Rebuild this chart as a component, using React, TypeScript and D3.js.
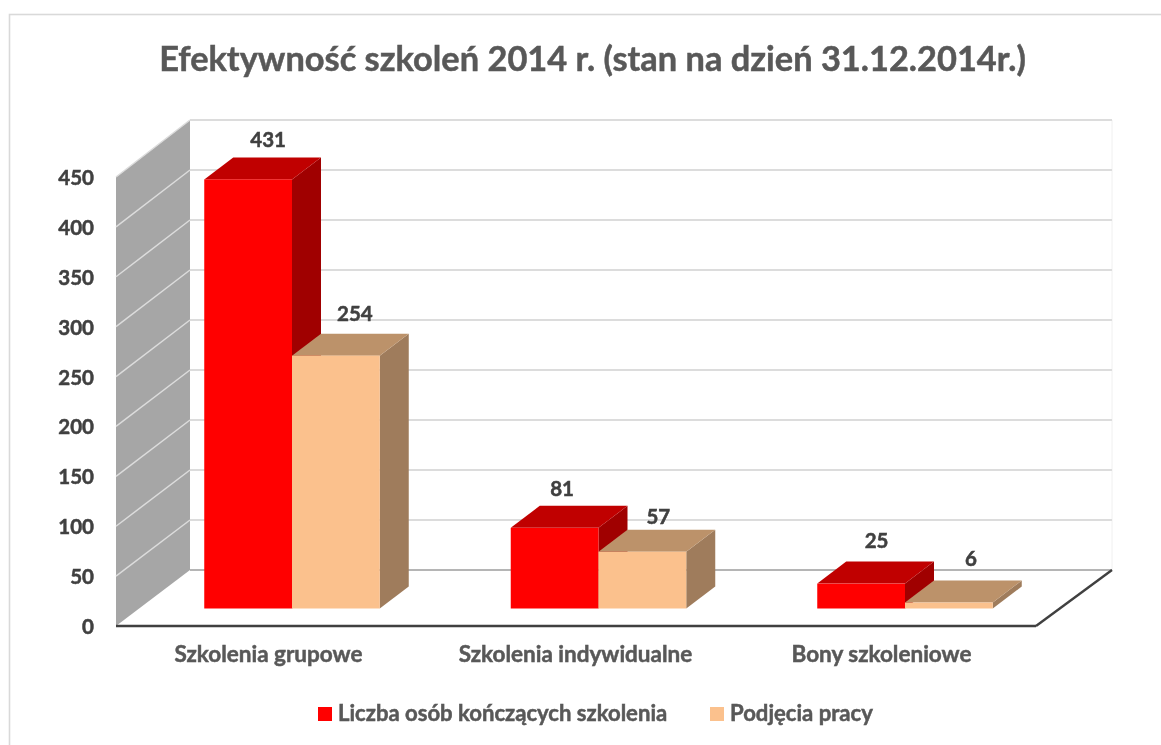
import React from "react";
import * as d3 from "d3";

const categories = ["Szkolenia grupowe", "Szkolenia indywidualne", "Bony szkoleniowe"];
const seriesNames = ["Liczba osób kończących szkolenia", "Podjęcia pracy"];
const graduates = [431, 81, 25];
const hired = [254, 57, 6];
const ticks = [0, 50, 100, 150, 200, 250, 300, 350, 400, 450];
const title = "Efektywność szkoleń 2014 r. (stan na dzień 31.12.2014r.)";

const FONT = "Lato, 'Open Sans', sans-serif";
const TEXT = "#595959";
const LABEL = "#404040";

const front = d3.scaleLinear().domain([0, 450]).range([626, 177]);
const back = d3.scaleLinear().domain([0, 450]).range([570, 120]);
const bar = d3.scaleLinear().domain([0, 450]).range([608.5, 160.5]);
const groupW = 175.5;
const groupCenters = [292, 598.5, 905];
const dx = 29;
const dy = -22;

// manual placement of the data labels, as offsets from the front-top centre of each bar
const gradLabelOffset: [number, number][] = [[20, -32], [7.5, -32], [15.5, -36]];
const hiredLabelOffset: [number, number][] = [[19, -35], [16, -28], [22, -37]];

const pts = (p: [number, number][]) => p.map((d) => d.join(",")).join(" ");

const palettes = [
  { front: "#ff0000", top: "#c00000", side: "#a00000" },
  { front: "#fbc18d", top: "#bc926a", side: "#9f7c5c" },
];

function Bar3D({ x, w, v, c }: { x: number; w: number; v: number; c: (typeof palettes)[number] }) {
  const y0 = bar(0);
  const y1 = bar(v);
  return (
    <g>
      <polygon points={pts([[x + w, y0], [x + w + dx, y0 + dy], [x + w + dx, y1 + dy], [x + w, y1]])} fill={c.side} />
      <polygon points={pts([[x, y1], [x + dx, y1 + dy], [x + w + dx, y1 + dy], [x + w, y1]])} fill={c.top} />
      <rect x={x} y={y1} width={w} height={y0 - y1} fill={c.front} />
    </g>
  );
}

export default function App() {
  const wallL = 116;
  const wallR = 190;
  const floorR = 1112;
  const floorFrontR = 1036;
  return (
    <svg width={1161} height={745} style={{ position: "absolute", left: 0, top: 0, background: "#fff" }}>
      <defs>
        <filter id="soft" x="-2%" y="-2%" width="104%" height="104%">
          <feGaussianBlur stdDeviation="0.45" />
        </filter>
        <filter id="softText" x="-2%" y="-2%" width="104%" height="104%">
          <feGaussianBlur stdDeviation="0.3" />
        </filter>
      </defs>
      <rect x={9.5} y={14.5} width={1170} height={760} fill="#fff" stroke="#d9d9d9" strokeWidth={1.6} />
      <g filter="url(#soft)">
        <line x1={floorR} x2={floorR} y1={back(450)} y2={back(0)} stroke="#f0f0f0" strokeWidth={1} />
        <polygon points={pts([[wallL, front(0)], [wallR, back(0)], [wallR, back(450)], [wallL, front(450)]])} fill="#a6a6a6" />
        {ticks.map((t) => (
          <g key={t}>
            <line x1={wallR} x2={floorR} y1={back(t)} y2={back(t)} stroke={t === 0 ? "#b5b5b5" : "#dcdcdc"} strokeWidth={1.8} />
            {t > 0 && <line x1={wallL} x2={wallR} y1={front(t)} y2={back(t)} stroke="#dcdcdc" strokeWidth={1.5} />}
          </g>
        ))}
        <line x1={wallL} x2={floorFrontR} y1={front(0)} y2={front(0)} stroke="#404040" strokeWidth={2.4} />
        <line x1={floorFrontR} x2={floorR} y1={front(0)} y2={back(0)} stroke="#404040" strokeWidth={2.4} />
        {categories.map((cat, i) => {
          const w = groupW / 2;
          const x0 = groupCenters[i] - w;
          return (
            <g key={cat}>
              <Bar3D x={x0} w={w} v={graduates[i]} c={palettes[0]} />
              <Bar3D x={x0 + w} w={w} v={hired[i]} c={palettes[1]} />
            </g>
          );
        })}
      </g>
      <g fontFamily={FONT} fontWeight={700} filter="url(#softText)" strokeWidth={0.5}>
        <text x={592.5} y={71} textAnchor="middle" fontSize={34.4} fill={TEXT} stroke={TEXT}>{title}</text>
        {ticks.map((t) => (
          <text key={t} x={94} y={front(t) + 8} textAnchor="end" fontSize={20.5} fill={LABEL} stroke={LABEL}>{t}</text>
        ))}
        {categories.map((cat, i) => (
          <text key={cat} x={[268.5, 575.5, 881.5][i]} y={662} textAnchor="middle" fontSize={22.5} fill={TEXT} stroke={TEXT}>{cat}</text>
        ))}
        {categories.map((cat, i) => {
          const w = groupW / 2;
          const x0 = groupCenters[i] - w;
          return (
            <g key={cat} fontSize={20.5} fill={LABEL} stroke={LABEL} textAnchor="middle">
              <text x={x0 + w / 2 + gradLabelOffset[i][0]} y={bar(graduates[i]) + gradLabelOffset[i][1]}>{graduates[i]}</text>
              <text x={x0 + w + w / 2 + hiredLabelOffset[i][0]} y={bar(hired[i]) + hiredLabelOffset[i][1]}>{hired[i]}</text>
            </g>
          );
        })}
        <rect x={318} y={707} width={14} height={14} fill="#ff0000" stroke="none" />
        <text x={338} y={720.5} fontSize={22.1} fill={TEXT} stroke={TEXT}>{seriesNames[0]}</text>
        <rect x={710} y={707} width={14} height={14} fill="#fbc18d" stroke="none" />
        <text x={730} y={720.5} fontSize={22.1} fill={TEXT} stroke={TEXT}>{seriesNames[1]}</text>
      </g>
    </svg>
  );
}
